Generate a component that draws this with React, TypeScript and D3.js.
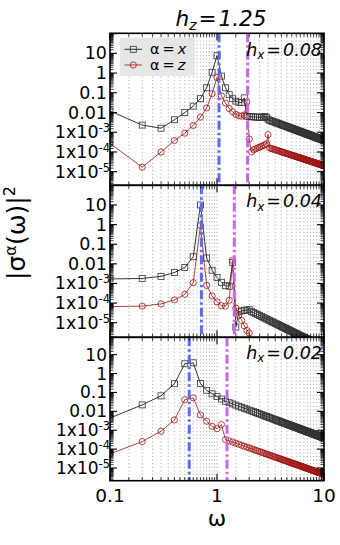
import React from "react";
import * as d3 from "d3";

// ---------------- data ----------------
const omega = [
  0.1, 0.2, 0.3, 0.4, 0.5, 0.6, 0.7, 0.8, 0.9, 1.0,
  1.1, 1.2, 1.3, 1.4, 1.5, 1.6, 1.7, 1.8, 1.9, 2.0,
  2.1, 2.2, 2.3, 2.4, 2.5, 2.6, 2.7, 2.8, 2.9, 3.0,
  3.1, 3.2, 3.3, 3.4, 3.5, 3.6, 3.7, 3.8, 3.9, 4.0,
  4.1, 4.2, 4.3, 4.4, 4.5, 4.6, 4.7, 4.8, 4.9, 5.0,
  5.1, 5.2, 5.3, 5.4, 5.5, 5.6, 5.7, 5.8, 5.9, 6.0,
  6.1, 6.2, 6.3, 6.4, 6.5, 6.6, 6.7, 6.8, 6.9, 7.0,
  7.1, 7.2, 7.3, 7.4, 7.5, 7.6, 7.7, 7.8, 7.9, 8.0,
  8.1, 8.2, 8.3, 8.4, 8.5, 8.6, 8.7, 8.8, 8.9, 9.0,
  9.1, 9.2, 9.3, 9.4, 9.5, 9.6, 9.7, 9.8, 9.9, 10.0,
];

// h_x = 0.08, alpha = x
const topX = [
  0.012, 2.3e-3, 1.6e-3, 4.3e-3, 0.010, 0.021, 0.05, 0.18, 1.1, 7.6,
  0.7, 0.18, 0.08, 0.05, 0.038, 0.033, 0.032, 0.055, 6.5e-3, 6.3e-3,
  6.1e-3, 6.0e-3, 5.9e-3, 5.8e-3, 5.7e-3, 5.7e-3, 5.9e-3, 6.2e-3, 5.6e-3, 4.6e-3,
  4.06e-3, 3.81e-3, 3.58e-3, 3.37e-3, 3.18e-3, 3.01e-3, 2.85e-3, 2.70e-3, 2.56e-3,
  2.44e-3, 2.32e-3, 2.21e-3, 2.11e-3, 2.02e-3, 1.93e-3, 1.84e-3, 1.77e-3, 1.69e-3, 1.62e-3,
  1.56e-3, 1.50e-3, 1.44e-3, 1.39e-3, 1.34e-3, 1.29e-3, 1.24e-3, 1.20e-3, 1.16e-3, 1.12e-3,
  1.08e-3, 1.05e-3, 1.01e-3, 9.83e-4, 9.52e-4, 9.24e-4, 8.97e-4, 8.70e-4, 8.42e-4, 8.19e-4,
  7.96e-4, 7.72e-4, 7.53e-4, 7.33e-4, 7.14e-4, 6.94e-4, 6.75e-4, 6.59e-4, 6.40e-4, 6.24e-4,
  6.08e-4, 5.93e-4, 5.81e-4, 5.66e-4, 5.54e-4, 5.38e-4, 5.27e-4, 5.15e-4, 5.03e-4, 4.91e-4,
  4.80e-4, 4.72e-4, 4.60e-4, 4.52e-4, 4.41e-4, 4.33e-4, 4.25e-4, 4.13e-4, 4.06e-4, 3.98e-4,
  3.90e-4,
];
// h_x = 0.08, alpha = z
const topZ = [
  2.7e-4, 1.7e-5, 1.0e-4, 3.8e-4, 9.0e-4, 2.2e-3, 5.8e-3, 0.017, 0.09, 0.6,
  0.07, 0.03, 0.016, 0.011, 8e-3, 6.8e-3, 6.5e-3, 7.5e-3, 0.033, 4.5e-4,
  1.0e-4, 1.3e-4, 1.45e-4, 1.6e-4, 1.75e-4, 1.9e-4, 2.1e-4, 2.3e-4, 2.6e-4, 7.5e-4,
  1.60e-4, 1.51e-4, 1.43e-4, 1.36e-4, 1.29e-4, 1.23e-4, 1.17e-4, 1.12e-4, 1.07e-4,
  1.02e-4, 9.76e-5, 9.35e-5, 8.97e-5, 8.62e-5, 8.28e-5, 7.97e-5, 7.67e-5, 7.38e-5, 7.11e-5,
  6.87e-5, 6.63e-5, 6.41e-5, 6.19e-5, 6.00e-5, 5.81e-5, 5.62e-5, 5.45e-5, 5.28e-5, 5.12e-5,
  4.98e-5, 4.83e-5, 4.69e-5, 4.56e-5, 4.43e-5, 4.32e-5, 4.21e-5, 4.10e-5, 3.98e-5, 3.88e-5,
  3.78e-5, 3.68e-5, 3.60e-5, 3.52e-5, 3.44e-5, 3.36e-5, 3.27e-5, 3.20e-5, 3.12e-5, 3.05e-5,
  2.98e-5, 2.92e-5, 2.87e-5, 2.80e-5, 2.75e-5, 2.68e-5, 2.63e-5, 2.57e-5, 2.52e-5, 2.47e-5,
  2.42e-5, 2.38e-5, 2.33e-5, 2.30e-5, 2.24e-5, 2.21e-5, 2.18e-5, 2.12e-5, 2.09e-5, 2.05e-5,
  2.01e-5,
];
// h_x = 0.04, alpha = x
const midX = [
  1.7e-3, 1.8e-3, 2.3e-3, 3.6e-3, 6.5e-3, 0.023, 10, 0.02, 4.7e-3, 2.0e-3,
  1.15e-3, 7.7e-4, 7.2e-4, 0.012, 6e-6, 3.6e-5, 4.0e-5, 4.3e-5, 4.4e-5, 4.6e-5,
  3.7e-5,
  3.26e-5, 2.89e-5, 2.58e-5, 2.31e-5, 2.08e-5, 1.88e-5, 1.70e-5, 1.55e-5,
  1.41e-5, 1.29e-5, 1.19e-5, 1.09e-5, 1.01e-5, 9.31e-6, 8.64e-6, 8.02e-6, 7.46e-6, 6.96e-6,
  6.49e-6, 6.08e-6, 5.70e-6, 5.34e-6, 5.02e-6, 4.73e-6, 4.45e-6, 4.20e-6, 3.97e-6, 3.75e-6,
  3.56e-6, 3.37e-6, 3.20e-6, 3.04e-6, 2.89e-6, 2.75e-6, 2.62e-6, 2.50e-6, 2.38e-6, 2.27e-6,
  2.17e-6, 2.08e-6, 1.99e-6, 1.91e-6, 1.83e-6, 1.75e-6, 1.68e-6, 1.61e-6, 1.55e-6, 1.49e-6,
  1.43e-6, 1.38e-6, 1.33e-6, 1.28e-6, 1.23e-6, 1.19e-6, 1.15e-6, 1.11e-6, 1.07e-6, 1.03e-6,
  1.00e-6, 9.6e-7, 9.3e-7, 9.0e-7, 8.7e-7, 8.4e-7, 8.1e-7, 7.9e-7, 7.6e-7, 7.4e-7,
  7.1e-7, 6.9e-7, 6.7e-7, 6.5e-7, 6.3e-7, 6.1e-7, 5.9e-7, 5.7e-7, 5.6e-7, 5.4e-7,
  5.3e-7,
];
// h_x = 0.04, alpha = z
const midZ = [
  6.6e-5, 7.0e-5, 9.1e-5, 1.45e-4, 2.8e-4, 1.1e-3, 0.9, 8e-4, 2.3e-4, 1.15e-4,
  7.4e-5, 7.0e-5, 1.4e-4, 0.015, 5.6e-5, 2.4e-5, 1.3e-5, 7e-6, 4e-6, 3e-6,
  1.0e-6,
  8.8e-7, 7.8e-7, 7.0e-7, 6.2e-7, 5.6e-7, 5.1e-7, 4.6e-7, 4.2e-7,
  3.8e-7, 3.5e-7, 3.2e-7, 2.9e-7, 2.7e-7, 2.5e-7, 2.3e-7, 2.2e-7, 2.0e-7, 1.9e-7,
  1.75e-7, 1.64e-7, 1.54e-7, 1.44e-7, 1.36e-7, 1.28e-7, 1.2e-7, 1.13e-7, 1.07e-7, 1.01e-7,
  9.6e-8, 9.1e-8, 8.6e-8, 8.2e-8, 7.8e-8, 7.4e-8, 7.1e-8, 6.8e-8, 6.4e-8, 6.1e-8,
  5.9e-8, 5.6e-8, 5.4e-8, 5.2e-8, 4.9e-8, 4.7e-8, 4.5e-8, 4.3e-8, 4.2e-8, 4.0e-8,
  3.9e-8, 3.7e-8, 3.6e-8, 3.5e-8, 3.3e-8, 3.2e-8, 3.1e-8, 3.0e-8, 2.9e-8, 2.8e-8,
  2.7e-8, 2.6e-8, 2.5e-8, 2.4e-8, 2.35e-8, 2.27e-8, 2.2e-8, 2.13e-8, 2.06e-8, 2.0e-8,
  1.92e-8, 1.86e-8, 1.81e-8, 1.76e-8, 1.7e-8, 1.65e-8, 1.6e-8, 1.55e-8, 1.5e-8, 1.46e-8,
  1.42e-8,
];
// h_x = 0.02, alpha = x
const botX = [
  4.4e-3, 0.022, 0.066, 0.29, 3.3, 3.7, 0.3, 0.13, 0.085, 0.06, 0.045,
  0.0340, 0.0288, 0.0246, 0.0213, 0.0186, 0.0164, 0.0145, 0.0130,
  0.0116, 0.0105, 0.00953, 0.00868, 0.00793, 0.00728, 0.00671, 0.00620, 0.00574, 0.00533,
  0.00497, 0.00464, 0.00434, 0.00407, 0.00382, 0.00359, 0.00339, 0.00319, 0.00303, 0.00286,
  0.00272, 0.00258, 0.00245, 0.00233, 0.00222, 0.00212, 0.00203, 0.00194, 0.00185, 0.00177,
  0.00170, 0.00163, 0.00157, 0.00150, 0.00145, 0.00139, 0.00134, 0.00129, 0.00124, 0.00120,
  0.00116, 0.00112, 0.00108, 0.00105, 0.00101, 9.81e-4, 9.50e-4, 9.20e-4, 8.90e-4, 8.64e-4,
  8.38e-4, 8.12e-4, 7.91e-4, 7.69e-4, 7.48e-4, 7.26e-4, 7.04e-4, 6.87e-4, 6.66e-4, 6.49e-4,
  6.32e-4, 6.15e-4, 6.02e-4, 5.85e-4, 5.72e-4, 5.56e-4, 5.43e-4, 5.30e-4, 5.18e-4, 5.05e-4,
  4.93e-4, 4.84e-4, 4.72e-4, 4.63e-4, 4.51e-4, 4.42e-4, 4.34e-4, 4.22e-4, 4.13e-4, 4.05e-4,
  3.96e-4,
];
// h_x = 0.02, alpha = z
const botZ = [
  5.6e-5, 2.5e-4, 8.9e-4, 3.5e-3, 0.041, 0.052, 6.5e-3, 3.0e-3, 1.6e-3, 1.2e-3, 2.0e-3,
  3.19e-4, 2.72e-4, 2.35e-4, 2.04e-4, 1.80e-4, 1.59e-4, 1.42e-4, 1.27e-4,
  1.15e-4, 1.04e-4, 9.50e-5, 8.69e-5, 7.99e-5, 7.36e-5, 6.80e-5, 6.31e-5, 5.87e-5, 5.47e-5,
  5.11e-5, 4.79e-5, 4.49e-5, 4.22e-5, 3.98e-5, 3.75e-5, 3.55e-5, 3.36e-5, 3.19e-5, 3.02e-5,
  2.88e-5, 2.74e-5, 2.61e-5, 2.49e-5, 2.38e-5, 2.27e-5, 2.18e-5, 2.08e-5, 2.00e-5, 1.91e-5,
  1.84e-5, 1.77e-5, 1.70e-5, 1.64e-5, 1.58e-5, 1.52e-5, 1.47e-5, 1.42e-5, 1.37e-5, 1.32e-5,
  1.28e-5, 1.24e-5, 1.20e-5, 1.16e-5, 1.12e-5, 1.09e-5, 1.06e-5, 1.03e-5, 9.94e-6, 9.66e-6,
  9.38e-6, 9.11e-6, 8.88e-6, 8.65e-6, 8.42e-6, 8.19e-6, 7.96e-6, 7.77e-6, 7.54e-6, 7.36e-6,
  7.18e-6, 6.99e-6, 6.85e-6, 6.67e-6, 6.53e-6, 6.35e-6, 6.21e-6, 6.07e-6, 5.93e-6, 5.80e-6,
  5.66e-6, 5.57e-6, 5.43e-6, 5.34e-6, 5.20e-6, 5.11e-6, 5.01e-6, 4.88e-6, 4.78e-6, 4.69e-6,
  4.60e-6,
];

const seriesX = [topX, midX, botX];
const seriesZ = [topZ, midZ, botZ];
const hxLabels = ["0.08", "0.04", "0.02"];
const hzLabel = "1.25";
const blueLines = [1.045, 0.715, 0.55];
const magentaLines = [1.93, 1.45, 1.24];
const legendLabels = ["x", "z"];
const xTickValues = [0.1, 1, 10];
const xTickLabels = ["0.1", "1", "10"];
const yTickValues = [10, 1, 0.1, 0.01, 1e-3, 1e-4, 1e-5];
const yTickMantissa = ["10", "1", "0.1", "0.01", "1x10", "1x10", "1x10"];
const yTickExponent = ["", "", "", "", "-3", "-4", "-5"];

// ---------------- layout ----------------
const W = 340;
const H = 545;
const X0 = 110;
const X1 = 324;
const panelLayout = [
  { top: 33.3, bottom: 185.3, lo: -5.69, hi: 2.015, labelY: 55.5 },
  { top: 185.3, bottom: 337.3, lo: -5.744, hi: 2.004, labelY: 207 },
  { top: 337.3, bottom: 480.7, lo: -5.673, hi: 1.92, labelY: 358.5 },
];
const FONT = "DejaVu Sans, Liberation Sans, sans-serif";
const BLACK_LINE = "#000";
const SQ_STROKE = "#333";
const RED = "#a01414";
const BLUE = "#5b6cf2";
const MAGENTA = "#c866f4";

export default function App() {
  const x = d3.scaleLog().domain([0.1, 10]).range([X0, X1]);
  const subs = d3.range(1.5, 10, 0.5);
  const xMinor = [0.1, 1].flatMap((d) => subs.map((s) => s * d));

  return (
    <svg
      width={W}
      height={H}
      style={{ position: "absolute", left: 0, top: 0, background: "#fff" }}
      fontFamily={FONT}
    >
      <defs>
        {panelLayout.map((p, i) => (
          <clipPath id={`clip${i}`} key={i}>
            <rect x={X0} y={p.top} width={X1 - X0} height={p.bottom - p.top} />
          </clipPath>
        ))}
      </defs>

      {panelLayout.map((p, pi) => {
        const y = d3
          .scaleLog()
          .domain([Math.pow(10, p.lo), Math.pow(10, p.hi)])
          .range([p.bottom, p.top]);
        const line = d3
          .line<number>()
          .x((_, i) => x(omega[i]))
          .y((d) => y(d));
        const yMajor: number[] = [];
        const yMinor: number[] = [];
        for (let n = -7; n <= 2; n++) {
          const base = Math.pow(10, n);
          if (n >= p.lo && n <= p.hi) yMajor.push(base);
          subs.forEach((s) => {
            const v = s * base;
            const l = Math.log10(v);
            if (l >= p.lo && l <= p.hi) yMinor.push(v);
          });
        }
        const xs = seriesX[pi];
        const zs = seriesZ[pi];
        return (
          <g key={pi}>
            {/* grid */}
            {[...xMinor, 1].map((v, i) => (
              <line
                key={`g${i}`}
                x1={x(v)}
                x2={x(v)}
                y1={p.top}
                y2={p.bottom}
                stroke="#9a9a9a"
                strokeWidth={0.9}
                strokeDasharray="1,2.6"
              />
            ))}
            {pi === 0 && <rect x={120} y={37.7} width={75} height={38.3} fill="#e6e6e6" />}
            <g clipPath={`url(#clip${pi})`}>
              <path d={line(xs) || ""} fill="none" stroke={BLACK_LINE} strokeWidth={0.8} />
              {xs.map((v, i) => {
                const cy = y(v);
                if (cy > p.bottom + 6) return null;
                return (
                  <rect
                    key={`sx${i}`}
                    x={x(omega[i]) - 3}
                    y={cy - 3}
                    width={6}
                    height={6}
                    fill="none"
                    stroke={SQ_STROKE}
                    strokeWidth={0.8}
                  />
                );
              })}
              <path d={line(zs) || ""} fill="none" stroke={RED} strokeWidth={0.8} />
              {zs.map((v, i) => {
                const cy = y(v);
                if (cy > p.bottom + 6) return null;
                return (
                  <circle
                    key={`sz${i}`}
                    cx={x(omega[i])}
                    cy={cy}
                    r={3.1}
                    fill="none"
                    stroke={RED}
                    strokeWidth={0.8}
                  />
                );
              })}
              <line
                x1={x(blueLines[pi])}
                x2={x(blueLines[pi])}
                y1={p.top}
                y2={p.bottom}
                stroke={BLUE}
                strokeWidth={3}
                strokeDasharray="9,3,2.5,3"
              />
              <line
                x1={x(magentaLines[pi])}
                x2={x(magentaLines[pi])}
                y1={p.top}
                y2={p.bottom}
                stroke={MAGENTA}
                strokeWidth={3}
                strokeDasharray="9,3,2.5,3"
              />
            </g>

            {/* ticks */}
            {yMinor.map((v, i) => (
              <g key={`ym${i}`}>
                <line x1={X0} x2={X0 + 3.5} y1={y(v)} y2={y(v)} stroke="#000" strokeWidth={0.8} />
                <line x1={X1 - 3.5} x2={X1} y1={y(v)} y2={y(v)} stroke="#000" strokeWidth={0.8} />
              </g>
            ))}
            {yMajor.map((v, i) => (
              <g key={`yM${i}`}>
                <line x1={X0} x2={X0 + 7} y1={y(v)} y2={y(v)} stroke="#000" strokeWidth={1.1} />
                <line x1={X1 - 7} x2={X1} y1={y(v)} y2={y(v)} stroke="#000" strokeWidth={1.1} />
              </g>
            ))}
            {xMinor.map((v, i) => (
              <g key={`xm${i}`}>
                <line x1={x(v)} x2={x(v)} y1={p.bottom} y2={p.bottom - 3.5} stroke="#000" strokeWidth={0.8} />
                <line x1={x(v)} x2={x(v)} y1={p.top} y2={p.top + 3.5} stroke="#000" strokeWidth={0.8} />
              </g>
            ))}
            {xTickValues.map((v, i) => (
              <g key={`xM${i}`}>
                <line x1={x(v)} x2={x(v)} y1={p.bottom} y2={p.bottom - 7} stroke="#000" strokeWidth={1.1} />
                <line x1={x(v)} x2={x(v)} y1={p.top} y2={p.top + 7} stroke="#000" strokeWidth={1.1} />
              </g>
            ))}

            {/* y tick labels */}
            {yTickValues.map((v, i) => (
              <text
                key={`yl${i}`}
                x={yTickExponent[i] ? 110 : 107}
                y={y(v) + 6}
                textAnchor="end"
                fontSize={pi === 2 ? 17 : 17.5}
                fill="#000"
              >
                <tspan>{yTickMantissa[i]}</tspan>
                {yTickExponent[i] && (
                  <tspan dy={-6} fontSize={11.5}>
                    {yTickExponent[i]}
                  </tspan>
                )}
              </text>
            ))}

            {/* frame */}
            <rect
              x={X0}
              y={p.top}
              width={X1 - X0}
              height={p.bottom - p.top}
              fill="none"
              stroke="#000"
              strokeWidth={1.6}
            />

            {/* panel label */}
            <text x={322} y={p.labelY} textAnchor="end" fontSize={17.5} fontStyle="italic" fill="#000">
              <tspan>h</tspan>
              <tspan dy={3.5} fontSize={12}>x</tspan>
              <tspan dy={-3.5} dx={2}>=</tspan>
              <tspan dx={2}>{hxLabels[pi]}</tspan>
            </text>

            {/* legend */}
            {pi === 0 &&
              legendLabels.map((lab, li) => {
                const ly = li === 0 ? 49.3 : 65;
                return (
                  <g key={`lg${li}`}>
                    <line
                      x1={124.5}
                      x2={142}
                      y1={ly}
                      y2={ly}
                      stroke={li === 0 ? BLACK_LINE : RED}
                      strokeWidth={0.8}
                    />
                    {li === 0 ? (
                      <rect x={130.3} y={ly - 3} width={6} height={6} fill="none" stroke={SQ_STROKE} strokeWidth={0.8} />
                    ) : (
                      <circle cx={133.3} cy={ly} r={3.1} fill="none" stroke={RED} strokeWidth={0.8} />
                    )}
                    <text x={150} y={ly + 5} fontSize={14.5} fill="#000">
                      <tspan>α</tspan>
                      <tspan dx={3}>=</tspan>
                      <tspan dx={3} fontStyle="italic">{lab}</tspan>
                    </text>
                  </g>
                );
              })}
          </g>
        );
      })}

      {/* x tick labels */}
      {xTickValues.map((v, i) => (
        <text key={`xl${i}`} x={x(v)} y={502} textAnchor="middle" fontSize={18.5} fill="#000">
          {xTickLabels[i]}
        </text>
      ))}
      {/* x label */}
      <text x={217} y={526} textAnchor="middle" fontSize={22} fill="#000">
        ω
      </text>
      {/* title */}
      <text x={221} y={25.5} textAnchor="middle" fontSize={21.5} fontStyle="italic" fill="#000">
        <tspan>h</tspan>
        <tspan dy={4.5} fontSize={14}>z</tspan>
        <tspan dy={-4.5} dx={2}>=</tspan>
        <tspan dx={2}>{hzLabel}</tspan>
      </text>
      {/* y label */}
      <text transform="translate(25,233) rotate(-90)" textAnchor="middle" fontSize={25} fill="#000">
        <tspan>|σ</tspan>
        <tspan dy={-9} fontSize={16}>α</tspan>
        <tspan dy={9}>(ω)|</tspan>
        <tspan dy={-10} fontSize={16}>2</tspan>
      </text>
    </svg>
  );
}
